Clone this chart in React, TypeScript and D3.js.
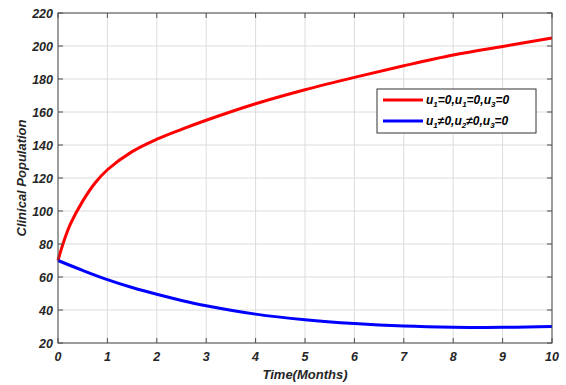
import React from "react";
import * as d3 from "d3";

// Time axis (months) and simulated clinical population for two control scenarios
const redTimes = [0, 0.1, 0.25, 0.5, 0.75, 1, 1.5, 2, 2.5, 3, 4, 5, 6, 7, 8, 9, 10];
const redValues = [70, 80, 92, 106, 117, 125, 136, 143.5, 149.5, 155, 165, 173.5, 181, 188, 194.5, 199.7, 204.8];
const blueTimes = [0, 0.5, 1, 1.5, 2, 2.5, 3, 4, 5, 6, 7, 8, 9, 10];
const blueValues = [70, 64, 58.4, 53.6, 49.5, 45.8, 42.6, 37.5, 34.1, 31.8, 30.3, 29.6, 29.5, 30];
const xTicks = [0, 1, 2, 3, 4, 5, 6, 7, 8, 9, 10];
const yTicks = [20, 40, 60, 80, 100, 120, 140, 160, 180, 200, 220];

const W = 566;
const H = 385;
const left = 58;
const right = 552;
const top = 13;
const bottom = 343;
const font = "'Liberation Sans', Arial, sans-serif";
const textColor = "#262626";

export default function App() {
  const x = d3.scaleLinear().domain([0, 10]).range([left, right]);
  const y = d3.scaleLinear().domain([20, 220]).range([bottom, top]);
  const line = d3
    .line<[number, number]>()
    .x((d) => x(d[0]))
    .y((d) => y(d[1]))
    .curve(d3.curveCatmullRom.alpha(0.5));
  const redPath = line(redTimes.map((t, i) => [t, redValues[i]]) as [number, number][]) || "";
  const bluePath = line(blueTimes.map((t, i) => [t, blueValues[i]]) as [number, number][]) || "";

  const labelStyle = { fontFamily: font, fontWeight: 700, fontStyle: "italic" as const };

  return (
    <svg
      width={W}
      height={H}
      style={{ position: "absolute", left: 0, top: 0, background: "#fff" }}
    >
      <rect x={0} y={0} width={W} height={H} fill="#fff" />
      {/* grid */}
      {xTicks.map((t) => (
        <line key={"gx" + t} x1={x(t)} x2={x(t)} y1={top} y2={bottom} stroke="#dcdcdc" strokeWidth={1} />
      ))}
      {yTicks.map((t) => (
        <line key={"gy" + t} x1={left} x2={right} y1={y(t)} y2={y(t)} stroke="#dcdcdc" strokeWidth={1} />
      ))}
      {/* curves */}
      <path d={redPath} fill="none" stroke="#ff0000" strokeWidth={3} />
      <path d={bluePath} fill="none" stroke="#0000ff" strokeWidth={3} />
      {/* axes box and ticks */}
      <rect x={left} y={top} width={right - left} height={bottom - top} fill="none" stroke="#4d4d4d" strokeWidth={1} />
      {xTicks.map((t) => (
        <g key={"tx" + t}>
          <line x1={x(t)} x2={x(t)} y1={bottom} y2={bottom - 5} stroke="#4d4d4d" />
          <line x1={x(t)} x2={x(t)} y1={top} y2={top + 5} stroke="#4d4d4d" />
          <text x={x(t)} y={bottom + 18} textAnchor="middle" fontSize={12.5} fill={textColor} style={labelStyle}>
            {t}
          </text>
        </g>
      ))}
      {yTicks.map((t) => (
        <g key={"ty" + t}>
          <line x1={left} x2={left + 5} y1={y(t)} y2={y(t)} stroke="#4d4d4d" />
          <line x1={right} x2={right - 5} y1={y(t)} y2={y(t)} stroke="#4d4d4d" />
          <text x={left - 5} y={y(t) + 4.5} textAnchor="end" fontSize={12.5} fill={textColor} style={labelStyle}>
            {t}
          </text>
        </g>
      ))}
      {/* axis titles */}
      <text x={(left + right) / 2} y={379} textAnchor="middle" fontSize={13} fill={textColor} style={labelStyle}>
        Time(Months)
      </text>
      <text
        transform={`translate(26,${(top + bottom) / 2}) rotate(-90)`}
        textAnchor="middle"
        fontSize={13}
        fill={textColor}
        style={labelStyle}
      >
        Clinical Population
      </text>
      {/* legend */}
      <rect x={377} y={89} width={159} height={44} fill="#fff" stroke="#333" strokeWidth={1} />
      <line x1={383} x2={423} y1={100} y2={100} stroke="#ff0000" strokeWidth={3} />
      <line x1={383} x2={423} y1={121} y2={121} stroke="#0000ff" strokeWidth={3} />
      <text x={426} y={104} fontSize={12} fill="#000" style={labelStyle}>
        u<tspan fontSize={8} dy={3}>1</tspan>
        <tspan dy={-3}>=0,u</tspan>
        <tspan fontSize={8} dy={3}>1</tspan>
        <tspan dy={-3}>=0,u</tspan>
        <tspan fontSize={8} dy={3}>3</tspan>
        <tspan dy={-3}>=0</tspan>
      </text>
      <text x={426} y={125} fontSize={12} fill="#000" style={labelStyle}>
        u<tspan fontSize={8} dy={3}>1</tspan>
        <tspan dy={-3}>≠0,u</tspan>
        <tspan fontSize={8} dy={3}>2</tspan>
        <tspan dy={-3}>≠0,u</tspan>
        <tspan fontSize={8} dy={3}>3</tspan>
        <tspan dy={-3}>=0</tspan>
      </text>
    </svg>
  );
}
